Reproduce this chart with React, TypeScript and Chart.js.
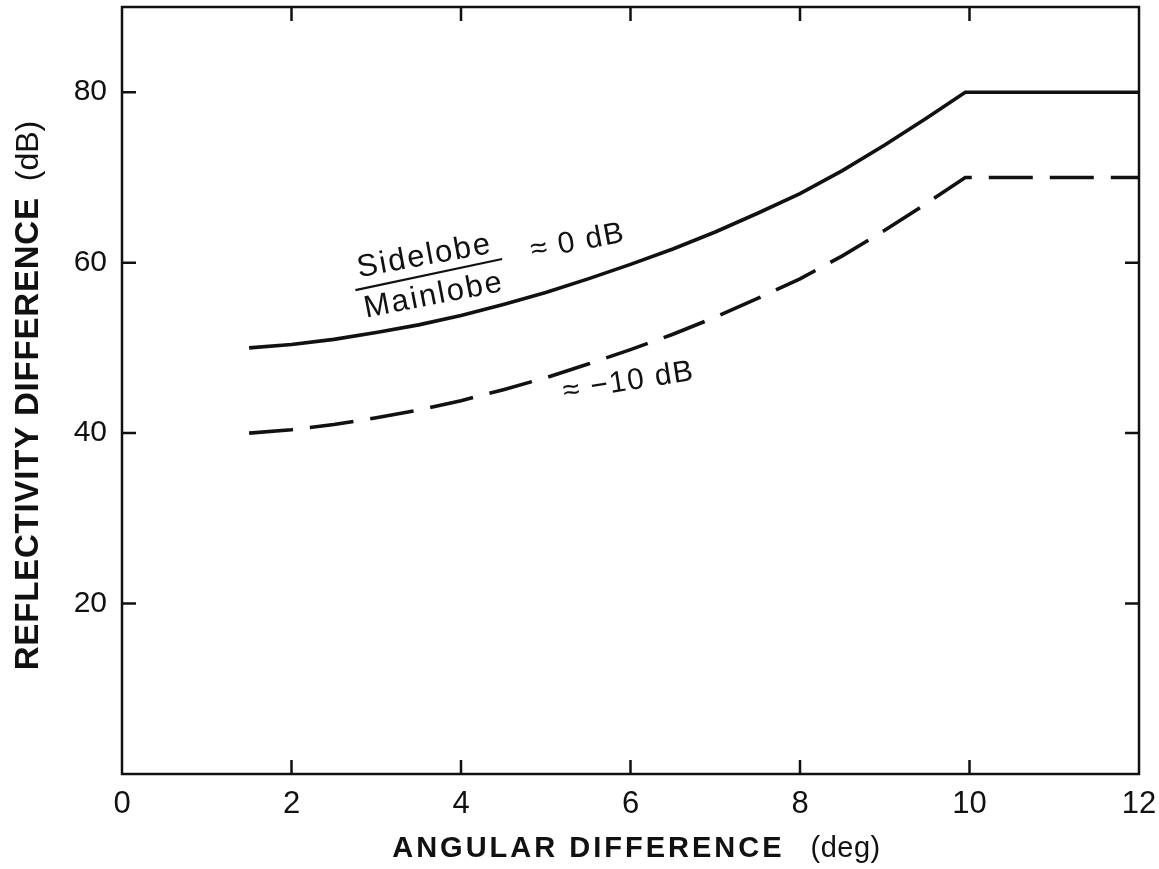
import React, { useEffect, useRef } from 'react';
import { Chart, registerables } from 'chart.js';

Chart.register(...registerables);

// Angular difference (deg)
const angles = [1.5, 2, 2.5, 3, 3.5, 4, 4.5, 5, 5.5, 6, 6.5, 7, 7.5, 8, 8.5, 9, 9.5, 9.95, 12];
// Sidelobe/Mainlobe ≈ 0 dB
const ratio0dB = [50.0, 50.4, 51.0, 51.8, 52.7, 53.8, 55.1, 56.5, 58.1, 59.8, 61.6, 63.6, 65.8, 68.1, 70.8, 73.8, 77.0, 80.0, 80.0];
// Sidelobe/Mainlobe ≈ -10 dB
const ratioMinus10dB = [40.0, 40.4, 41.0, 41.8, 42.7, 43.8, 45.1, 46.5, 48.1, 49.8, 51.6, 53.6, 55.8, 58.1, 60.8, 63.8, 67.0, 70.0, 70.0];

const xTickValues = [0, 2, 4, 6, 8, 10, 12];
const yTickValues = [20, 40, 60, 80];

const xTitleBold = 'ANGULAR DIFFERENCE';
const xTitleUnit = '(deg)';
const yTitleBold = 'REFLECTIVITY DIFFERENCE';
const yTitleUnit = '(dB)';

const labelNumerator = 'Sidelobe';
const labelDenominator = 'Mainlobe';
const label0dB = '≈ 0 dB';
const labelMinus10dB = '≈ −10 dB';

const FONT = "'Liberation Sans', Arial, Helvetica, sans-serif";

function spacedText(ctx: CanvasRenderingContext2D, text: string, x: number, y: number, font: string, spacing: number): number {
  ctx.font = font;
  (ctx as any).letterSpacing = spacing + 'px';
  ctx.fillText(text, x, y);
  const w = ctx.measureText(text).width;
  (ctx as any).letterSpacing = '0px';
  return w;
}

function measureSpaced(ctx: CanvasRenderingContext2D, text: string, font: string, spacing: number): number {
  ctx.font = font;
  (ctx as any).letterSpacing = spacing + 'px';
  const w = ctx.measureText(text).width;
  (ctx as any).letterSpacing = '0px';
  return w;
}

const framePlugin = {
  id: 'frameAndLabels',
  beforeDraw(chart: any) {
    const { ctx, width, height } = chart;
    ctx.save();
    ctx.fillStyle = '#ffffff';
    ctx.fillRect(0, 0, width, height);
    ctx.restore();
  },
  afterDraw(chart: any) {
    const { ctx, chartArea } = chart;
    const xs = chart.scales.x;
    const ys = chart.scales.y;
    const { left, right, top, bottom } = chartArea;
    ctx.save();
    ctx.strokeStyle = '#111';
    ctx.lineWidth = 2.5;
    ctx.lineCap = 'square';
    ctx.strokeRect(left, top, right - left, bottom - top);
    ctx.lineCap = 'butt';
    const tl = 14;
    ctx.beginPath();
    xTickValues.forEach((v) => {
      if (v <= xs.min || v >= xs.max) return;
      const px = xs.getPixelForValue(v);
      ctx.moveTo(px, bottom);
      ctx.lineTo(px, bottom - tl);
      ctx.moveTo(px, top);
      ctx.lineTo(px, top + tl);
    });
    yTickValues.forEach((v) => {
      const py = ys.getPixelForValue(v);
      ctx.moveTo(left, py);
      ctx.lineTo(left + tl, py);
      ctx.moveTo(right, py);
      ctx.lineTo(right - tl, py);
    });
    ctx.stroke();

    // Axis titles
    ctx.fillStyle = '#111';
    ctx.textBaseline = 'alphabetic';
    ctx.textAlign = 'left';
    const xb = `bold 29px ${FONT}`;
    const xn = `29px ${FONT}`;
    const wXB = measureSpaced(ctx, xTitleBold, xb, 3);
    const wXN = measureSpaced(ctx, xTitleUnit, xn, 0.5);
    const gapX = 26;
    const cx = (left + right) / 2 + 6;
    const sx = cx - (wXB + gapX + wXN) / 2;
    spacedText(ctx, xTitleBold, sx, 857, xb, 3);
    spacedText(ctx, xTitleUnit, sx + wXB + gapX, 857, xn, 0.5);

    const yb = `bold 33px ${FONT}`;
    const yn = `32px ${FONT}`;
    const wYB = measureSpaced(ctx, yTitleBold, yb, 0.8);
    const wYN = measureSpaced(ctx, yTitleUnit, yn, 0);
    const gapY = 16;
    const cy = (top + bottom) / 2 + 5;
    ctx.save();
    ctx.translate(38, cy);
    ctx.rotate(-Math.PI / 2);
    const sy = -(wYB + gapY + wYN) / 2;
    spacedText(ctx, yTitleBold, sy, 0, yb, 0.8);
    spacedText(ctx, yTitleUnit, sy + wYB + gapY, 0, yn, 0);
    ctx.restore();

    // Curve annotations
    const ann = (text: string, xv: number, yv: number, deg: number, size: number, spacing: number) => {
      ctx.save();
      ctx.translate(xs.getPixelForValue(xv), ys.getPixelForValue(yv));
      ctx.rotate((deg * Math.PI) / 180);
      ctx.textAlign = 'center';
      ctx.textBaseline = 'middle';
      spacedText(ctx, text, spacing / 2, 0, `${size}px ${FONT}`, spacing);
      ctx.restore();
    };
    ann(labelNumerator, 3.56, 60.7, -10.5, 31, 2);
    ann(labelDenominator, 3.67, 56.1, -11, 31, 2);
    ann(label0dB, 5.37, 62.4, -11, 30, 1.5);
    ann(labelMinus10dB, 5.97, 46.0, -9, 30, 1.5);

    // fraction bar
    ctx.save();
    ctx.translate(xs.getPixelForValue(3.62), ys.getPixelForValue(58.6));
    ctx.rotate((-12 * Math.PI) / 180);
    ctx.lineWidth = 2.2;
    ctx.beginPath();
    ctx.moveTo(-75, 0);
    ctx.lineTo(75, 0);
    ctx.stroke();
    ctx.restore();

    ctx.restore();
  },
};

function zeroPadding(scale: any) {
  scale.paddingTop = 0;
  scale.paddingBottom = 0;
  scale.paddingLeft = 0;
  scale.paddingRight = 0;
}

export default function App() {
  const ref = useRef<HTMLCanvasElement | null>(null);
  useEffect(() => {
    if (!ref.current) return;
    const chart = new Chart(ref.current, {
      type: 'line',
      data: {
        datasets: [
          {
            label: 'Sidelobe/Mainlobe ≈ 0 dB',
            data: angles.map((a, i) => ({ x: a, y: ratio0dB[i] })),
            borderColor: '#111',
            borderWidth: 3.6,
            pointRadius: 0,
            tension: 0,
            fill: false,
          },
          {
            label: 'Sidelobe/Mainlobe ≈ -10 dB',
            data: angles.map((a, i) => ({ x: a, y: ratioMinus10dB[i] })),
            borderColor: '#111',
            borderWidth: 3.6,
            borderDash: [44, 17],
            pointRadius: 0,
            tension: 0,
            fill: false,
          },
        ],
      },
      options: {
        animation: false,
        responsive: false,
        devicePixelRatio: 1,
        layout: { padding: { left: 0, right: 20, top: 7, bottom: 0 } },
        plugins: {
          legend: { display: false },
          tooltip: { enabled: false },
          title: { display: false },
        },
        scales: {
          x: {
            type: 'linear',
            min: 0,
            max: 12,
            grid: { display: false, drawTicks: false },
            border: { display: false },
            ticks: {
              stepSize: 2,
              padding: 12,
              color: '#111',
              font: { family: FONT, size: 31 },
              maxRotation: 0,
            },
            afterFit: (scale: any) => {
              scale.height = 95;
              zeroPadding(scale);
            },
          },
          y: {
            type: 'linear',
            min: 0,
            max: 90,
            grid: { display: false, drawTicks: false },
            border: { display: false },
            ticks: {
              stepSize: 20,
              includeBounds: false,
              padding: 15,
              color: '#111',
              font: { family: FONT, size: 30 },
              callback: (v: any) => (v === 0 ? '' : String(v)),
            },
            afterFit: (scale: any) => {
              scale.width = 122;
              zeroPadding(scale);
            },
          },
        },
      },
      plugins: [framePlugin],
    });
    return () => chart.destroy();
  }, []);
  return (
    <div style={{ position: 'absolute', left: 0, top: 0, width: 1159, height: 869, background: '#fff' }}>
      <canvas ref={ref} width={1159} height={869} style={{ display: 'block' }} />
    </div>
  );
}
